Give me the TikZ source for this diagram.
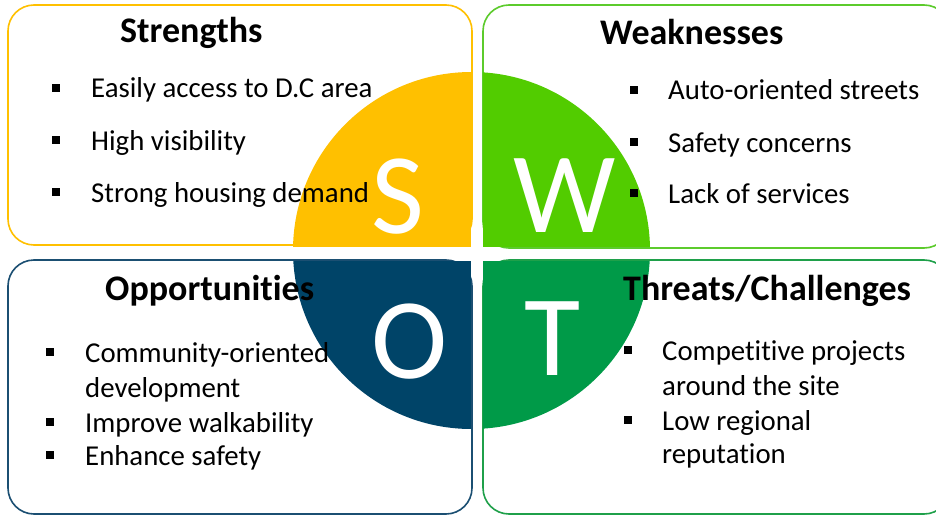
\documentclass[tikz,border=0pt]{standalone}
\usepackage{fontspec}
\setmainfont[Ligatures={NoCommon}]{Carlito}
\definecolor{sorange}{HTML}{FFC000}
\definecolor{wgreen}{HTML}{52CC00}
\definecolor{oblue}{HTML}{004468}
\definecolor{tgreen}{HTML}{009A48}
\definecolor{wline}{HTML}{5CCB2C}
\definecolor{oline}{HTML}{1B4F72}
\definecolor{tline}{HTML}{1FA04A}
\tikzset{
  box/.style={rounded corners=26pt, line width=1.6pt},
  ttl/.style={anchor=base west, inner sep=0pt, font=\fontsize{36}{40}\selectfont\bfseries},
  item/.style={anchor=base west, inner sep=0pt, font=\fontsize{28.8}{32}\selectfont},
  blt/.style={fill=black, minimum size=8.5pt, inner sep=0pt},
  big/.style={anchor=base, inner sep=0pt, text=white, font=\fontsize{115}{120}\selectfont}
}
\begin{document}
\begin{tikzpicture}[x=1pt, y=-1pt]
\useasboundingbox (0,0) rectangle (936,516);
\fill[white] (0,0) rectangle (936,516);

% the four framed panels
\draw[box, sorange] (8,5) rectangle (472,245);
\draw[box, wline] (483,5) rectangle (950,248);
\draw[box, oline] (8,260) rectangle (472,514);
\draw[box, tline] (483,260) rectangle (950,514);

% central disc split into four quadrants
\begin{scope}
  \clip (471.5,250.5) circle [radius=178.5pt];
  \fill[sorange] (280,60) rectangle (471,247);
  \fill[wgreen] (483,60) rectangle (660,247);
  \fill[oblue] (280,261) rectangle (471,440);
  \fill[tgreen] (483,261) rectangle (660,440);
\end{scope}

% quadrant letters
\node[big] (ls) at (398,233) {S};
\node[big] (lw) at (565,232) {W};
\node[big] (lo) at (410,378) {O};
\node[big] (lt) at (553,375) {T};

% Strengths
\node[ttl] (st) at (120,43) {Strengths};
\node[blt] (sb1) at (56,88) {};
\node[item] (s1) at (91,98) {Easily access to D.C area};
\node[blt] (sb2) at (56,140) {};
\node[item] (s2) at (91,150) {High visibility};
\node[blt] (sb3) at (56,192) {};
\node[item] (s3) at (91,202) {Strong housing demand};

% Weaknesses
\node[ttl] (wt) at (600,45) {Weaknesses};
\node[blt] (wb1) at (634,90) {};
\node[item] (w1) at (668,100) {Auto-oriented streets};
\node[blt] (wb2) at (634,142) {};
\node[item] (w2) at (668,152) {Safety concerns};
\node[blt] (wb3) at (634,193) {};
\node[item] (w3) at (668,203) {Lack of services};

% Opportunities
\node[ttl] (ot) at (105,300) {Opportunities};
\node[blt] (ob1) at (50,352) {};
\node[item] (o1) at (85,362) {Community-oriented};
\node[item] (o1b) at (85,397) {development};
\node[blt] (ob2) at (50,422) {};
\node[item] (o2) at (85,432) {Improve walkability};
\node[blt] (ob3) at (50,455) {};
\node[item] (o3) at (85,465) {Enhance safety};

% Threats/Challenges
\node[ttl] (tt) at (623,300) {Threats/Challenges};
\node[blt] (tb1) at (628,350) {};
\node[item] (t1) at (662,360) {Competitive projects};
\node[item] (t1b) at (662,395) {around the site};
\node[blt] (tb2) at (628,420) {};
\node[item] (t2) at (662,430) {Low regional};
\node[item] (t2b) at (662,463) {reputation};
\end{tikzpicture}
\end{document}
